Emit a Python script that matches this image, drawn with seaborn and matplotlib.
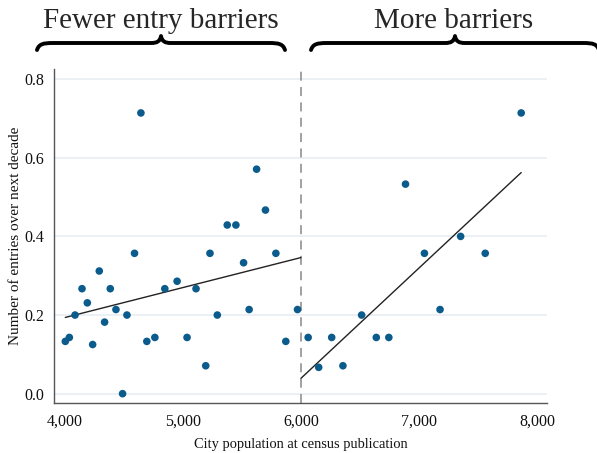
import numpy as np
import pandas as pd
import matplotlib.pyplot as plt
import seaborn as sns
from matplotlib.path import Path
from matplotlib.patches import PathPatch
from matplotlib.ticker import FuncFormatter

# city population at census publication
pop_fewer = [4008, 4042, 4090, 4149, 4194, 4239, 4295, 4340, 4388, 4436, 4492, 4529,
             4593, 4647, 4697, 4765, 4849, 4953, 5037, 5113, 5195, 5231, 5293, 5377,
             5450, 5515, 5562, 5625, 5700, 5788, 5872, 5971]
entries_fewer = [0.133, 0.143, 0.200, 0.267, 0.231, 0.125, 0.312, 0.182, 0.267, 0.214, 0.000, 0.200,
                 0.357, 0.714, 0.133, 0.143, 0.267, 0.286, 0.143, 0.267, 0.071, 0.357, 0.200, 0.429,
                 0.429, 0.333, 0.214, 0.571, 0.467, 0.357, 0.133, 0.214]

pop_more = [6061, 6150, 6260, 6355, 6513, 6637, 6743, 6884, 7044, 7176, 7350, 7558, 7862]
entries_more = [0.143, 0.067, 0.143, 0.071, 0.200, 0.143, 0.143, 0.533, 0.357, 0.214, 0.400, 0.357, 0.714]

cutoff = 6000
x_ticks = [4000, 5000, 6000, 7000, 8000]
y_ticks = [0.0, 0.2, 0.4, 0.6, 0.8]
group_labels = ["Fewer entry barriers", "More barriers"]

dot_color = "#0b5b8c"

sns.set_theme(style="white")
plt.rcParams['font.family'] = ['Liberation Serif', 'DejaVu Serif']

df = pd.DataFrame({
    'pop': pop_fewer + pop_more,
    'entries': entries_fewer + entries_more,
})

fig = plt.figure(figsize=(5.97, 4.53), dpi=100)
ax = fig.add_axes([0.091, 0.111, 0.825, 0.736])

# light horizontal grid
for yv in y_ticks:
    ax.axhline(yv, color="#e8eff2", lw=1.3, zorder=0)

ax.axvline(cutoff, color="#9a9a9a", lw=1.3, ls=(0, (5, 3.5)), zorder=1)

sns.scatterplot(data=df, x='pop', y='entries', ax=ax, color=dot_color, s=30,
                edgecolor='none', zorder=3)

# linear fit on each side of the cutoff
for xs, ys, lo, hi in [(pop_fewer, entries_fewer, min(pop_fewer), cutoff),
                       (pop_more, entries_more, cutoff, max(pop_more))]:
    b, a = np.polyfit(xs, ys, 1)
    xx = np.array([lo, hi])
    sns.lineplot(x=xx, y=a + b * xx, ax=ax, color="#222222", lw=1.0, zorder=2)

ax.set_xlim(3915, 8079)
ax.set_ylim(-0.023, 0.825)
ax.set_xticks(x_ticks)
ax.set_yticks(y_ticks)
ax.xaxis.set_major_formatter(FuncFormatter(lambda v, p: f"{v:,.0f}"))
ax.yaxis.set_major_formatter(FuncFormatter(lambda v, p: f"{v:.1f}"))
ax.tick_params(axis='both', direction='out', length=4, width=1, color="#555555",
               labelsize=11.5, labelcolor="#111111", pad=3)
ax.tick_params(axis='x', pad=4)
for side in ['top', 'right']:
    ax.spines[side].set_visible(False)
for side in ['left', 'bottom']:
    ax.spines[side].set_color("#555555")
    ax.spines[side].set_linewidth(1.0)

ax.set_xlabel("City population at census publication", fontsize=10.4, labelpad=6, color="#111111")
ax.set_ylabel("Number of entries over next decade", fontsize=11, labelpad=2, color="#111111")

# overlay in pixel units for the braces and group titles
ov = fig.add_axes([0, 0, 1, 1])
ov.set_xlim(0, 597)
ov.set_ylim(453, 0)
ov.axis('off')


def brace(ax_, x0, x1, y_end=50, y_flat=43, y_tip=36):
    xm = (x0 + x1) / 2
    verts = [(x0, y_end),
             (x0 + 2, y_flat + 1), (x0 + 6, y_flat), (x0 + 16, y_flat),
             (xm - 10, y_flat),
             (xm - 4, y_flat), (xm - 1, y_flat - 1.5), (xm, y_tip),
             (xm + 1, y_flat - 1.5), (xm + 4, y_flat), (xm + 10, y_flat),
             (x1 - 16, y_flat),
             (x1 - 6, y_flat), (x1 - 2, y_flat + 1), (x1, y_end)]
    codes = [Path.MOVETO,
             Path.CURVE4, Path.CURVE4, Path.CURVE4,
             Path.LINETO,
             Path.CURVE4, Path.CURVE4, Path.CURVE4,
             Path.CURVE4, Path.CURVE4, Path.CURVE4,
             Path.LINETO,
             Path.CURVE4, Path.CURVE4, Path.CURVE4]
    ax_.add_patch(PathPatch(Path(verts, codes), fill=False, lw=2.8, color="black",
                            capstyle='round', joinstyle='round'))


brace(ov, 37, 285)
brace(ov, 311, 599)
ov.text(161, 28, group_labels[0], fontsize=21, ha='center', va='baseline')
ov.text(454, 28, group_labels[1], fontsize=21, ha='center', va='baseline')

fig.savefig("out.png", dpi=100)
